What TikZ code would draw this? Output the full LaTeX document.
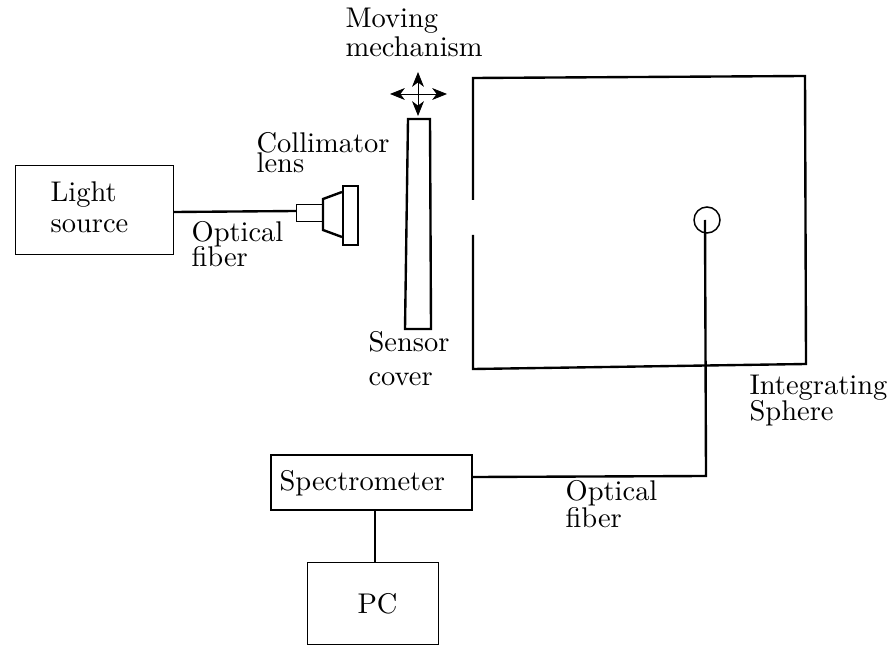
\documentclass[tikz,border=0pt]{standalone}
\usetikzlibrary{arrows.meta}
\tikzset{
  movetip/.style={{Stealth[length=5pt,width=4pt,inset=1.5pt]}-{Stealth[length=5pt,width=4pt,inset=1.5pt]},line width=.3pt}
}
\begin{document}
\begin{tikzpicture}[x=.337pt,y=-.337pt]

      \useasboundingbox (0,0) rectangle (893,646);

      \begin{scope}[every node/.style={draw,line width=.4pt,inner sep=0pt,anchor=north west}]
        \node[minimum width=158*.337pt,minimum height=89*.337pt] (light) at (15,165) {};
        \node[minimum width=27*.337pt,minimum height=17*.337pt] (ferrule) at (296,204) {};
        \node[line width=.8pt,minimum width=15*.337pt,minimum height=59*.337pt] (lens) at (342,185) {};
        \node[line width=.7pt,minimum width=201*.337pt,minimum height=55*.337pt] (spectro) at (270,454) {};
        \node[line width=.5pt,minimum width=131*.337pt,minimum height=82*.337pt] (pc) at (307,562) {};
      \end{scope}

      \node[draw,circle,line width=.5pt,inner sep=0pt,minimum size=26*.337pt] (probe) at (707,220) {};

      \coordinate (c1) at (323,199);
      \coordinate (c2) at (342,192);
      \coordinate (c3) at (323,230);
      \coordinate (c4) at (342,237);
      \coordinate (bend) at (706,476);
      \coordinate (tip) at (705,220);
      \coordinate (drop) at (375,509);
      \coordinate (land) at (375,562);
      \coordinate (left) at (390,94);
      \coordinate (right) at (447,94);
      \coordinate (up) at (418,72);
      \coordinate (down) at (418,116);

      \begin{scope}[line width=.8pt]
        \path[draw] (light.east |- 0,212) -- (ferrule.west |- 0,211);
        \path[draw] (c2) -- (c1) -- (c3) -- (c4);
        \path[draw] (408,119) -- (430,119) -- (431,329) -- (405,329) -- cycle;
        \path[draw] (473,200) -- (473,78) -- (805,76) -- (806,364) -- (473,369) -- (473,235);
        \path[draw] (spectro.east |- 0,477) -- (bend) -- (tip);
        \path[draw] (drop) -- (land);
      \end{scope}

      \draw[movetip] (left) -- (right);
      \draw[movetip] (up) -- (down);

      \begin{scope}[every node/.style={anchor=base west,inner sep=0pt,font=\fontsize{9.6}{11}\selectfont}]
        \node (t1) at (345,28) {Moving};
        \node (t2) at (345,57) {mechanism};
        \node (t3) at (256,153) {Collimator};
        \node (t4) at (256,173) {lens};
        \node (t5) at (50,202) {Light};
        \node (t6) at (50,233) {source};
        \node (t7) at (191,242) {Optical};
        \node (t8) at (191,267) {fiber};
        \node (t9) at (368,352) {Sensor};
        \node (t10) at (368,385) {cover};
        \node (t11) at (749,394) {Integrating};
        \node (t12) at (749,420) {Sphere};
        \node (t13) at (279,490) {Spectrometer};
        \node (t14) at (565,500) {Optical};
        \node (t15) at (565,527) {fiber};
        \node (t16) at (357,613) {PC};
      \end{scope}

    \end{tikzpicture}
\end{document}
